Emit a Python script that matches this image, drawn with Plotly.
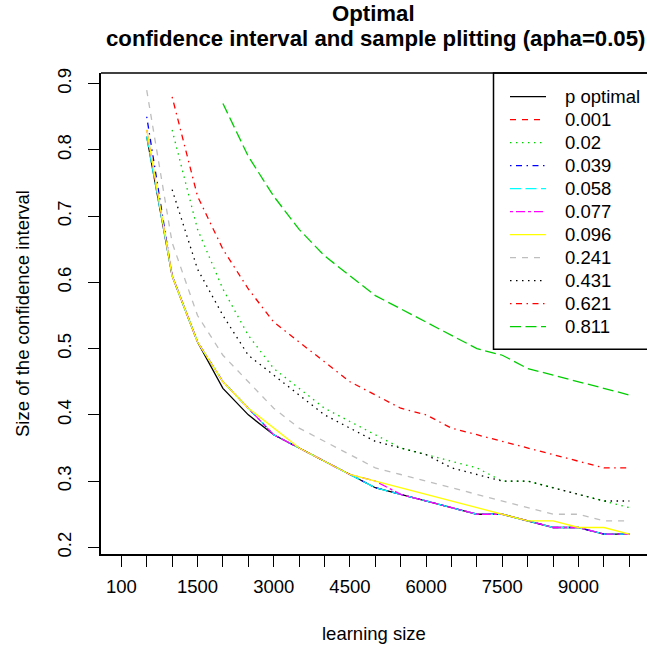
import plotly.graph_objects as go

# ---- data ----
learning_sizes = [100, 500, 1000, 1500, 2000, 2500, 3000, 3500, 4000, 4500, 5000,
                  5500, 6000, 6500, 7000, 7500, 8000, 8500, 9000, 9500, 10000]

p_optimal = [None, 0.82, 0.61, 0.51, 0.44, 0.40, 0.37, 0.35, 0.33, 0.31, 0.29,
             0.28, 0.27, 0.26, 0.25, 0.25, 0.24, 0.23, 0.23, 0.22, 0.22]
p_0_001 = [None] * 21  # off the visible range in the reference
p_0_02 = [None, None, 0.83, 0.68, 0.59, 0.52, 0.47, 0.44, 0.41, 0.39, 0.37,
          0.35, 0.34, 0.33, 0.32, 0.30, 0.30, 0.29, 0.28, 0.27, 0.26]
p_0_039 = [None, 0.85, 0.61, 0.51, 0.45, 0.41, 0.37, 0.35, 0.33, 0.31, 0.29,
           0.28, 0.27, 0.26, 0.25, 0.25, 0.24, 0.23, 0.23, 0.22, 0.22]
p_0_058 = [None, 0.82, 0.61, 0.51, 0.45, 0.41, 0.37, 0.35, 0.33, 0.31, 0.29,
           0.28, 0.27, 0.26, 0.25, 0.25, 0.24, 0.23, 0.23, 0.22, 0.22]
p_0_077 = [None, 0.83, 0.61, 0.51, 0.45, 0.41, 0.37, 0.35, 0.33, 0.31, 0.30,
           0.28, 0.27, 0.26, 0.25, 0.25, 0.24, 0.23, 0.23, 0.22, 0.22]
p_0_096 = [None, 0.83, 0.61, 0.51, 0.45, 0.41, 0.38, 0.35, 0.33, 0.31, 0.30,
           0.29, 0.28, 0.27, 0.26, 0.25, 0.24, 0.24, 0.23, 0.23, 0.22]
p_0_241 = [None, 0.89, 0.66, 0.55, 0.49, 0.45, 0.41, 0.38, 0.36, 0.34, 0.32,
           0.31, 0.30, 0.29, 0.28, 0.27, 0.26, 0.25, 0.25, 0.24, 0.24]
p_0_431 = [None, None, 0.74, 0.62, 0.55, 0.49, 0.46, 0.43, 0.40, 0.38, 0.36,
           0.35, 0.34, 0.32, 0.31, 0.30, 0.30, 0.29, 0.28, 0.27, 0.27]
p_0_621 = [None, None, 0.88, 0.73, 0.65, 0.59, 0.54, 0.51, 0.48, 0.45, 0.43,
           0.41, 0.40, 0.38, 0.37, 0.36, 0.35, 0.34, 0.33, 0.32, 0.32]
p_0_811 = [None, None, None, None, 0.87, 0.79, 0.73, 0.68, 0.64, 0.61, 0.58,
           0.56, 0.54, 0.52, 0.50, 0.49, 0.47, 0.46, 0.45, 0.44, 0.43]

series_names = ["p optimal", "0.001", "0.02", "0.039", "0.058", "0.077",
                "0.096", "0.241", "0.431", "0.621", "0.811"]
series_values = [p_optimal, p_0_001, p_0_02, p_0_039, p_0_058, p_0_077,
                 p_0_096, p_0_241, p_0_431, p_0_621, p_0_811]

y_ticks = [0.2, 0.3, 0.4, 0.5, 0.6, 0.7, 0.8, 0.9]

# ---- styles (R base palette / line types) ----
colors = ["#000000", "#FF0000", "#00CD00", "#0000FF", "#00FFFF", "#FF00FF",
          "#FFFF00", "#BEBEBE", "#000000", "#FF0000", "#00CD00"]
dashes = ["solid", "6px,6px", "1.5px,4.5px", "1.5px,4.5px,6px,4.5px",
          "11px,4.5px", "3px,3px,9px,3px", "solid", "6px,6px",
          "1.5px,4.5px", "1.5px,4.5px,6px,4.5px", "11px,4.5px"]
LW = 1.3

positions = list(range(1, len(learning_sizes) + 1))
tick_text = [str(v) if (k % 3 == 0) else "" for k, v in enumerate(learning_sizes)]

FONT = "Liberation Sans, Arial, sans-serif"
BASE = 18.5

W, H = 647, 648
L, R, T, B = 101, 0, 73, 94
PW, PH = W - L - R, H - T - B
px_per_unit = 25.4
x_right = 0.2 + PW / px_per_unit


def fx(page_x):
    return (page_x - L) / PW


def fy(page_y):
    return (H - B - page_y) / PH


fig = go.Figure()
for name, vals, col, dsh in zip(series_names, series_values, colors, dashes):
    fig.add_trace(go.Scatter(
        x=positions, y=vals, mode="lines", name=name,
        line=dict(color=col, width=LW, dash=dsh),
        connectgaps=False, showlegend=False,
    ))

fig.update_layout(
    width=W, height=H,
    margin=dict(l=L, r=R, t=T, b=B, pad=0),
    paper_bgcolor="white", plot_bgcolor="white",
    font=dict(family=FONT, size=BASE, color="black"),
    showlegend=False,
    xaxis=dict(
        range=[0.2, x_right], tickmode="array", tickvals=positions, ticktext=tick_text,
        ticks="outside", ticklen=11, tickwidth=1.3, tickcolor="black",
        showline=True, linecolor="black", linewidth=1.5, mirror=False,
        showgrid=False, zeroline=False, ticklabelstandoff=4,
    ),
    yaxis=dict(
        range=[0.19, 0.916], tickmode="array", tickvals=y_ticks,
        ticktext=[f"{v:.1f}" for v in y_ticks], tickangle=-90,
        ticks="outside", ticklen=11, tickwidth=1.3, tickcolor="black",
        showline=True, linecolor="black", linewidth=1.5, mirror=False,
        showgrid=False, zeroline=False, ticklabelstandoff=10,
    ),
)

# top border of the plot box (R box)
fig.add_shape(type="line", xref="paper", yref="paper", x0=0, x1=1.05, y0=1, y1=1,
              line=dict(color="black", width=1.5))

# legend box (R style), entries drawn with the same colours / line types
fig.add_shape(type="rect", xref="paper", yref="paper", x0=fx(493.5), x1=1.05,
              y0=fy(349.3), y1=1, line=dict(color="black", width=1.5),
              fillcolor="rgba(0,0,0,0)")
for k, (name, col, dsh) in enumerate(zip(series_names, colors, dashes)):
    yk = 96.7 + 23.0 * k
    fig.add_shape(type="line", xref="paper", yref="paper",
                  x0=fx(510), x1=fx(546), y0=fy(yk), y1=fy(yk),
                  line=dict(color=col, width=LW, dash=dsh))
    fig.add_annotation(text=name, xref="paper", yref="paper",
                       x=fx(562.5), y=fy(yk), showarrow=False,
                       xanchor="left", yanchor="middle",
                       font=dict(size=BASE, color="black"))

# titles
fig.add_annotation(text="<b>Optimal</b>", xref="paper", yref="paper",
                   x=fx(373.5), y=fy(13.8), showarrow=False,
                   xanchor="center", yanchor="middle", font=dict(size=22.2))
fig.add_annotation(text="<b>confidence interval and sample plitting (apha=0.05)</b>",
                   xref="paper", yref="paper",
                   x=fx(375), y=fy(38.2), showarrow=False,
                   xanchor="center", yanchor="middle", font=dict(size=22.2))
fig.add_annotation(text="learning size", xref="paper", yref="paper",
                   x=fx(373.5), y=fy(633), showarrow=False,
                   xanchor="center", yanchor="middle", font=dict(size=BASE))
fig.add_annotation(text="Size of the confidence interval", xref="paper", yref="paper",
                   x=fx(22), y=fy(313), showarrow=False,
                   textangle=-90, xanchor="center", yanchor="middle",
                   font=dict(size=BASE))

# remove the browser's default 8px page margin so the figure fills the window
fig.write_html(
    "out.html",
    config={"displayModeBar": False},
    post_script="document.body.style.margin='0';document.body.style.overflow='hidden';",
)
